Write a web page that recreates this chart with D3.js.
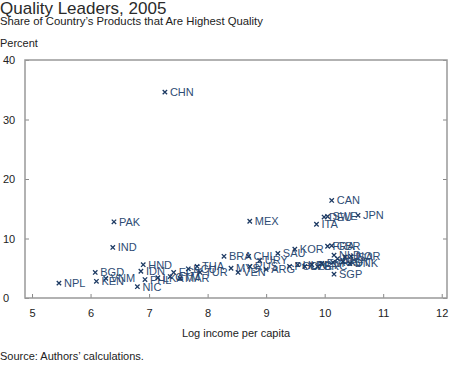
<!DOCTYPE html>
<html>
<head>
<meta charset="utf-8">
<script src="https://cdn.jsdelivr.net/npm/d3@7"></script>
<style>
  body { margin: 0; background: #fff; }
  svg { font-family: "Liberation Sans", Arial, sans-serif; }
</style>
</head>
<body>
<div id="chart"></div>
<script>
// country codes, log income per capita, share of top quality products (percent)
const countries = ["NPL","KEN","BGD","VNM","PAK","IND","CHN","HND","IDN","NIC","PHL","LKA","GTM","EGY","MAR","ECU","THA","TUR","MYS","VEN","RUS","URY","BRA","CHL","ARG","SAU","KOR","POL","HUN","CZE","PRT","GRC","ESP","MEX","ITA","DEU","SWE","JPN","CAN","FRA","GBR","NLD","BEL","USA","NOR","AUS","AUT","DNK","SGP"];
const logIncome = [5.46,6.10,6.08,6.26,6.40,6.38,7.27,6.90,6.86,6.80,6.93,7.15,7.36,7.42,7.53,7.67,7.82,7.87,8.40,8.52,8.72,8.89,8.28,8.70,9.00,9.20,9.49,9.40,9.54,9.66,9.78,9.88,9.95,8.72,9.86,9.99,10.05,10.57,10.12,10.05,10.12,10.16,10.22,10.35,10.45,10.14,10.31,10.43,10.16];
const shareTop = [2.5,2.8,4.3,3.3,12.8,8.5,34.6,5.6,4.5,1.9,3.1,3.4,3.6,4.3,3.3,4.9,5.3,4.3,5.0,4.3,5.3,6.3,7.0,7.0,4.8,7.5,8.2,5.3,5.6,5.3,5.6,5.3,5.8,12.9,12.4,13.6,13.7,13.9,16.4,8.7,8.8,7.2,6.6,6.9,7.0,6.0,6.1,5.8,4.0];

const xTicks = [5, 6, 7, 8, 9, 10, 11, 12];
const yTicks = [0, 10, 20, 30, 40];

const width = 450, height = 365;
const svg = d3.select("#chart").append("svg")
  .attr("width", width)
  .attr("height", height);

const x = d3.scaleLinear().domain([4.88, 12.09]).range([25, 447]);
const y = d3.scaleLinear().domain([0, 40]).range([298, 60]);

// titles
svg.append("text").attr("x", 0).attr("y", 14)
  .style("font-size", "17px").style("fill", "#2a2a2a")
  .text("Quality Leaders, 2005");
svg.append("text").attr("x", 0).attr("y", 25)
  .style("font-size", "11.3px").style("fill", "#222")
  .text("Share of Country\u2019s Products that Are Highest Quality");
svg.append("text").attr("x", 0).attr("y", 47)
  .style("font-size", "11px").style("fill", "#222")
  .text("Percent");

// axes
const xAxis = svg.append("g")
  .attr("transform", `translate(0,${y(0)})`)
  .call(d3.axisBottom(x).tickValues(xTicks).tickSize(-4).tickPadding(11).tickFormat(d3.format("d")));

const yAxis = svg.append("g")
  .attr("transform", `translate(${x.range()[0]},0)`)
  .call(d3.axisLeft(y).tickValues(yTicks).tickSize(-4).tickFormat(d3.format("d")));
yAxis.selectAll("text").attr("x", -22).attr("text-anchor", "start");

const yAxisR = svg.append("g")
  .attr("transform", `translate(${x.range()[1]},0)`)
  .call(d3.axisRight(y).tickValues(yTicks).tickSize(-4).tickFormat(""));

[xAxis, yAxis, yAxisR].forEach(g => {
  g.select(".domain").remove();
  g.selectAll("line").attr("stroke", "#888");
  g.selectAll("text").style("font-size", "11px").style("fill", "#222")
    .style("font-family", "Liberation Sans, Arial, sans-serif");
});

// frame
svg.append("rect")
  .attr("x", x.range()[0]).attr("y", y.range()[1])
  .attr("width", x.range()[1] - x.range()[0])
  .attr("height", y.range()[0] - y.range()[1])
  .attr("fill", "none").attr("stroke", "#999").attr("stroke-width", 1.5);

// points
const pts = svg.append("g").selectAll("g")
  .data(countries)
  .enter().append("g")
  .attr("transform", (d, i) => `translate(${x(logIncome[i])},${y(shareTop[i])})`);

pts.append("path")
  .attr("d", "M-2.2,-2.2L2.2,2.2M-2.2,2.2L2.2,-2.2")
  .attr("stroke", "#1d3a63").attr("stroke-width", 1.3);

pts.append("text")
  .attr("x", 5).attr("dy", "0.36em")
  .style("font-size", "11px").style("fill", "#2e4c74")
  .text(d => d);

// axis title and source
svg.append("text").attr("x", 236).attr("y", 337)
  .attr("text-anchor", "middle")
  .style("font-size", "11px").style("fill", "#222")
  .text("Log income per capita");
svg.append("text").attr("x", 0).attr("y", 360)
  .style("font-size", "11px").style("fill", "#222")
  .text("Source: Authors\u2019 calculations.");
</script>
</body>
</html>
